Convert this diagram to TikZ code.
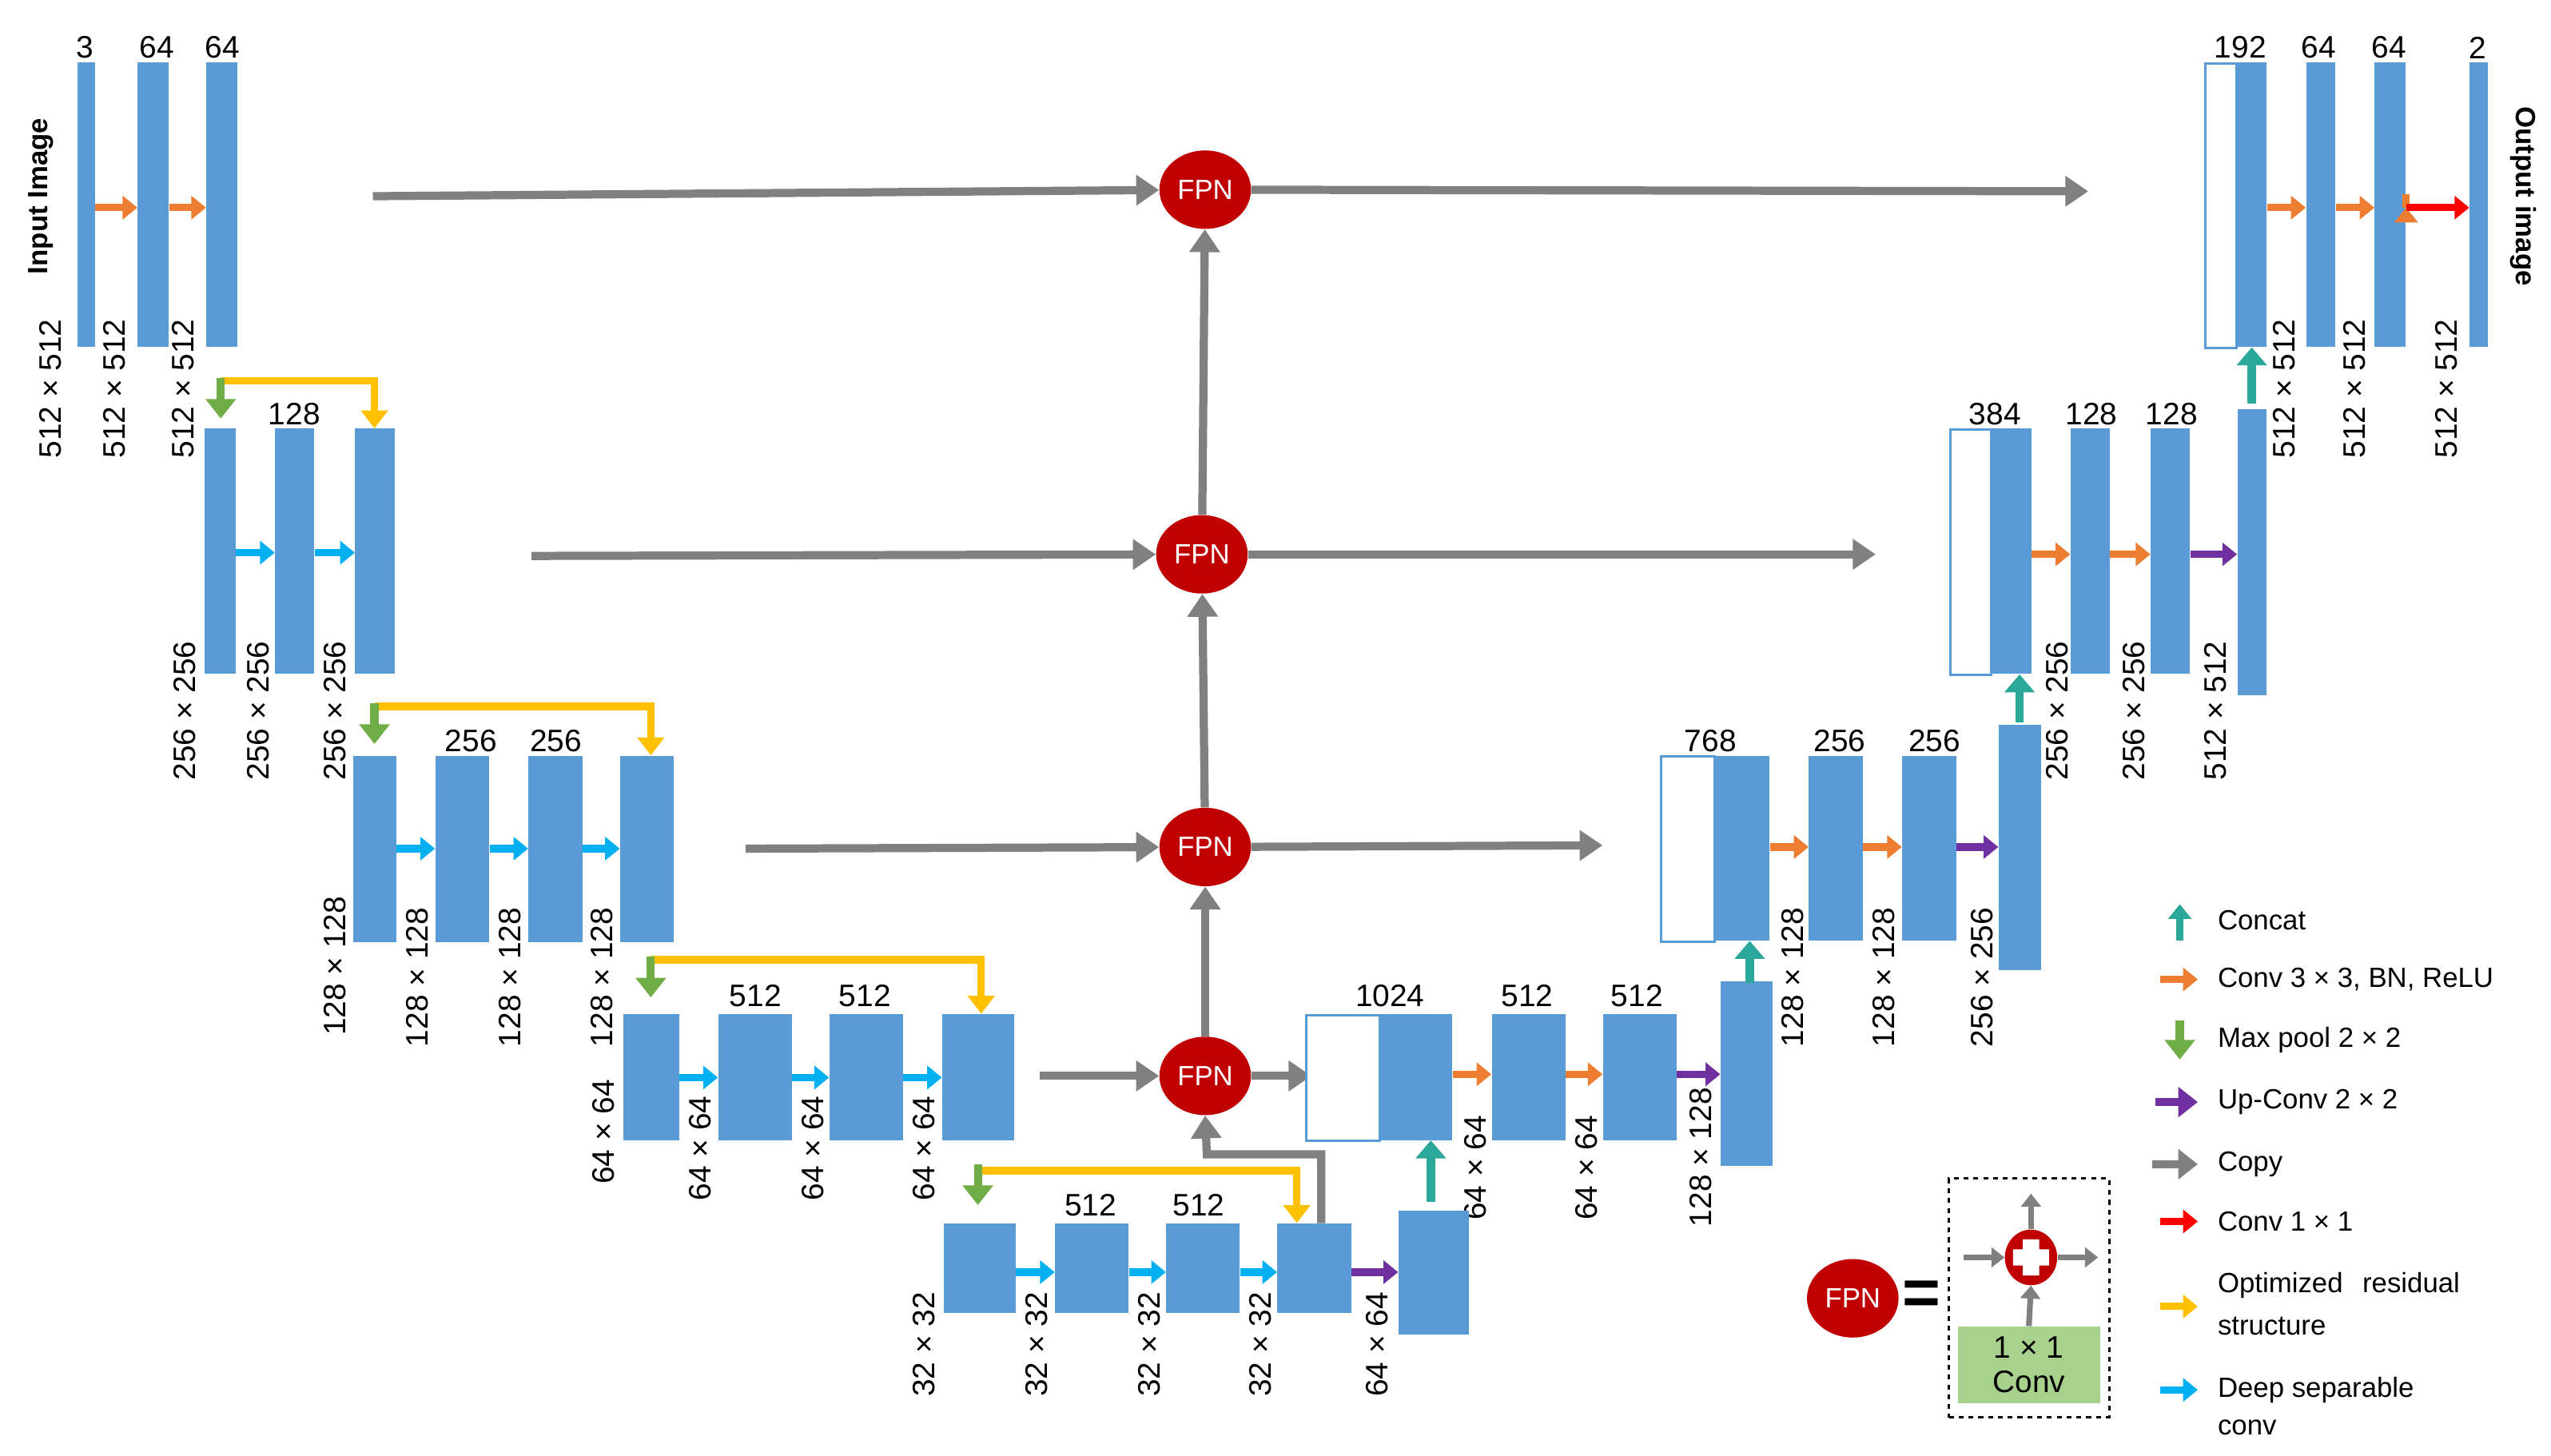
\documentclass[tikz,border=0pt]{standalone}
\usepackage{fontspec}
\setmainfont{Liberation Sans}
\usetikzlibrary{arrows.meta,shapes.geometric}
\definecolor{barb}{HTML}{5B9BD5}
\definecolor{corg}{HTML}{ED7D31}
\definecolor{cgrn}{HTML}{70AD47}
\definecolor{cpur}{HTML}{7030A0}
\definecolor{cyel}{HTML}{FFC000}
\definecolor{ccya}{HTML}{00B0F0}
\definecolor{cteal}{HTML}{2BA89A}
\definecolor{cgry}{HTML}{808080}
\definecolor{cfpn}{HTML}{C00000}
\definecolor{cgbox}{HTML}{A9D18E}
\newcommand\blk[5]{\node[bar,minimum width=#4pt,minimum height=#5pt] (#1) at (#2,#3) {};}
\newcommand\obk[5]{\node[obar,minimum width=#4pt,minimum height=#5pt] (#1) at (#2,#3) {};}
\newcommand\dimlab[4]{\node[dim] (#1) at (#2,#3) {#4};}
\newcommand\num[4]{\node[numl] (#1) at (#2,#3) {#4};}
\begin{document}
\begin{tikzpicture}[x=1pt,y=-1pt,
 bar/.style={fill=barb,draw=none,anchor=north west,inner sep=0pt},
 obar/.style={fill=white,draw=barb,line width=1.5pt,anchor=north west,inner sep=0pt},
 dim/.style={rotate=90,anchor=east,font=\fontsize{19}{20}\selectfont,inner sep=0pt},
 numl/.style={font=\fontsize{19}{20}\selectfont,inner sep=0pt,anchor=south},
 sa/.style={line width=4.5pt,-{Triangle[length=9pt,width=14pt]}},
 ga/.style={draw=cgry,line width=5pt,-{Triangle[length=14pt,width=18pt]}},
 fpn/.style={ellipse,fill=cfpn,minimum width=56pt,minimum height=48pt,inner sep=0pt,text=white,font=\fontsize{17}{18}\selectfont},
 leg/.style={anchor=west,font=\fontsize{17}{18}\selectfont,inner sep=0pt},
 ya/.style={draw=cyel,line width=4.5pt,-{Triangle[length=11pt,width=16pt]}}]
\useasboundingbox (0,0) rectangle (1560,890);
% ---------- level 1
\blk{a1}{47}{38}{11}{174}\blk{a2}{84}{38}{19}{174}\blk{a3}{126}{38}{19}{174}
\num{n1}{52}{36}{3}\num{n2}{96}{36}{64}\num{n3}{136}{36}{64}
\node[rotate=90,font=\bfseries\fontsize{17}{18}\selectfont] (inp) at (25,120) {Input Image};
\draw[sa,draw=corg] (a1.east|-0,127) -- (a2.west|-0,127);
\draw[sa,draw=corg] (a2.east|-0,127) -- (a3.west|-0,127);
\dimlab{d11}{31}{195}{512 × 512}\dimlab{d12}{70}{195}{512 × 512}\dimlab{d13}{112}{195}{512 × 512}
\node[fpn] (f1) at (737,116) {FPN};
\coordinate (s1) at (228,120);\coordinate (t1) at (1277,117);
\draw[ga] (s1) -- (f1);\draw[ga] (f1) -- (t1);
% output
\obk{o0}{1348}{38}{19}{174}\blk{o1}{1367}{38}{19}{174}\blk{o2}{1410}{38}{18}{174}\blk{o3}{1452}{38}{19}{174}\blk{o4}{1510}{38}{11}{174}
\num{m1}{1370}{36}{192}\num{m2}{1418}{36}{64}\num{m3}{1461}{36}{64}\num{m4}{1515}{36}{2}
\draw[sa,draw=corg] (o1.east|-0,127) -- (o2.west|-0,127);
\draw[sa,draw=corg] (o3.east|-0,127) -- (o3.east|-0,127) -- (o3.east|-0,127);
\draw[sa,draw=corg] (o2.east|-0,127) -- (o3.west|-0,127);
\draw[sa,draw=red] (o3.east|-0,127) -- (o4.west|-0,127);
\node[rotate=-90,font=\bfseries\fontsize{17}{18}\selectfont] (outp) at (1543,120) {Output image};
\dimlab{e11}{1397}{195}{512 × 512}\dimlab{e12}{1440}{195}{512 × 512}\dimlab{e13}{1496}{195}{512 × 512}
% ---------- level 2
\blk{b1}{125}{262}{19}{150}\blk{b2}{168}{262}{24}{150}\blk{b3}{217}{262}{24}{150}
\num{nb}{180}{260}{128}
\draw[sa,draw=ccya] (b1.east|-0,338) -- (b2.west|-0,338);
\draw[sa,draw=ccya] (b2.east|-0,338) -- (b3.west|-0,338);
\dimlab{d21}{113}{392}{256 × 256}\dimlab{d22}{158}{392}{256 × 256}\dimlab{d23}{205}{392}{256 × 256}
\draw[ya] (135,233) -- (229,233) -- (b3.north-|229,0);
\draw[draw=cgrn,line width=5pt,-{Triangle[length=12pt,width=18pt]}] (135,231) -- (135,256);
\node[fpn] (f2) at (735,339) {FPN};
\coordinate (s2) at (325,340);\coordinate (t2) at (1147,339);
\draw[ga] (s2) -- (f2);\draw[ga] (f2) -- (t2);
\obk{p0}{1192}{262}{25}{150}\blk{p1}{1217}{262}{25}{150}\blk{p2}{1266}{262}{24}{150}\blk{p3}{1315}{262}{24}{150}\blk{p4}{1368}{250}{18}{175}
\num{mb1}{1220}{260}{384}\num{mb2}{1279}{260}{128}\num{mb3}{1328}{260}{128}
\draw[sa,draw=corg] (p1.east|-0,339) -- (p2.west|-0,339);
\draw[sa,draw=corg] (p2.east|-0,339) -- (p3.west|-0,339);
\draw[sa,draw=cpur] (p3.east|-0,339) -- (p4.west|-0,339);
\dimlab{e21}{1258}{392}{256 × 256}\dimlab{e22}{1305}{392}{256 × 256}\dimlab{e23}{1355}{392}{512 × 512}
\draw[draw=cteal,line width=5pt,-{Triangle[length=11pt,width=18pt]}] (p4.north-|1377,0) ++(0,-3) -- (o1.south-|1377,0);
% ---------- level 3
\blk{c1}{216}{462}{26}{114}\blk{c2}{266}{462}{33}{114}\blk{c3}{323}{462}{33}{114}\blk{c4}{379}{462}{33}{114}
\num{nc1}{288}{460}{256}\num{nc2}{340}{460}{256}
\draw[sa,draw=ccya] (c1.east|-0,519) -- (c2.west|-0,519);
\draw[sa,draw=ccya] (c2.east|-0,519) -- (c3.west|-0,519);
\draw[sa,draw=ccya] (c3.east|-0,519) -- (c4.west|-0,519);
\dimlab{d31}{205}{548}{128 × 128}\dimlab{d32}{255}{555}{128 × 128}\dimlab{d33}{312}{555}{128 × 128}\dimlab{d34}{368}{555}{128 × 128}
\draw[ya] (229,432) -- (398,432) -- (c4.north-|398,0);
\draw[draw=cgrn,line width=5pt,-{Triangle[length=12pt,width=18pt]}] (229,430) -- (229,455);
\node[fpn] (f3) at (737,518) {FPN};
\coordinate (s3) at (456,519);\coordinate (t3) at (980,517);
\draw[ga] (s3) -- (f3);\draw[ga] (f3) -- (t3);
\obk{q0}{1015}{462}{33}{113}\blk{q1}{1048}{462}{34}{113}\blk{q2}{1106}{462}{33}{113}\blk{q3}{1163}{462}{33}{113}\blk{q4}{1222}{443}{26}{150}
\num{mc1}{1046}{460}{768}\num{mc2}{1125}{460}{256}\num{mc3}{1183}{460}{256}
\draw[sa,draw=corg] (q1.east|-0,518) -- (q2.west|-0,518);
\draw[sa,draw=corg] (q2.east|-0,518) -- (q3.west|-0,518);
\draw[sa,draw=cpur] (q3.east|-0,518) -- (q4.west|-0,518);
\dimlab{e31}{1096}{555}{128 × 128}\dimlab{e32}{1152}{555}{128 × 128}\dimlab{e33}{1212}{555}{256 × 256}
\draw[draw=cteal,line width=5pt,-{Triangle[length=11pt,width=18pt]}] (1235,442) -- (p1.south-|1235,0);
% ---------- level 4
\blk{r1}{381}{620}{34}{77}\blk{r2}{439}{620}{45}{77}\blk{r3}{507}{620}{45}{77}\blk{r4}{576}{620}{44}{77}
\num{nd1}{462}{616}{512}\num{nd2}{529}{616}{512}
\draw[sa,draw=ccya] (r1.east|-0,659) -- (r2.west|-0,659);
\draw[sa,draw=ccya] (r2.east|-0,659) -- (r3.west|-0,659);
\draw[sa,draw=ccya] (r3.east|-0,659) -- (r4.west|-0,659);
\dimlab{d41}{369}{660}{64 × 64}\dimlab{d42}{428}{670}{64 × 64}\dimlab{d43}{497}{670}{64 × 64}\dimlab{d44}{565}{670}{64 × 64}
\draw[ya] (398,587) -- (600,587) -- (r4.north-|600,0);
\draw[draw=cgrn,line width=5pt,-{Triangle[length=12pt,width=18pt]}] (398,585) -- (398,610);
\node[fpn] (f4) at (737,658) {FPN};
\coordinate (s4) at (636,658);\coordinate (t4) at (802,658);
\draw[ga] (s4) -- (f4);\draw[ga] (f4) -- (t4);
\obk{u0}{798}{620}{45}{77}\blk{u1}{843}{620}{45}{77}\blk{u2}{912}{620}{45}{77}\blk{u3}{980}{620}{45}{77}\blk{u4}{1052}{600}{32}{113}
\num{md1}{850}{616}{1024}\num{md2}{934}{616}{512}\num{md3}{1001}{616}{512}
\draw[sa,draw=corg] (u1.east|-0,657) -- (u2.west|-0,657);
\draw[sa,draw=corg] (u2.east|-0,657) -- (u3.west|-0,657);
\draw[sa,draw=cpur] (u3.east|-0,657) -- (u4.west|-0,657);
\dimlab{e41}{902}{682}{64 × 64}\dimlab{e42}{970}{682}{64 × 64}\dimlab{e43}{1040}{665}{128 × 128}
\draw[draw=cteal,line width=5pt,-{Triangle[length=11pt,width=18pt]}] (1070,601) -- (q1.south-|1070,0);
% ---------- level 5
\blk{w1}{577}{748}{44}{55}\blk{w2}{645}{748}{45}{55}\blk{w3}{713}{748}{45}{55}\blk{w4}{781}{748}{45}{55}\blk{w5}{855}{740}{43}{76}
\num{ne1}{667}{744}{512}\num{ne2}{733}{744}{512}
\draw[sa,draw=ccya] (w1.east|-0,778) -- (w2.west|-0,778);
\draw[sa,draw=ccya] (w2.east|-0,778) -- (w3.west|-0,778);
\draw[sa,draw=ccya] (w3.east|-0,778) -- (w4.west|-0,778);
\draw[sa,draw=cpur] (w4.east|-0,778) -- (w5.west|-0,778);
\dimlab{d51}{565}{790}{32 × 32}\dimlab{d52}{634}{790}{32 × 32}\dimlab{d53}{703}{790}{32 × 32}\dimlab{d54}{771}{790}{32 × 32}\dimlab{d55}{842}{790}{64 × 64}
\draw[ya] (598,716) -- (793,716) -- (w4.north-|793,0);
\draw[draw=cgrn,line width=5pt,-{Triangle[length=12pt,width=18pt]}] (598,712) -- (598,737);
\draw[draw=cteal,line width=5pt,-{Triangle[length=11pt,width=18pt]}] (875,735) -- (u1.south-|875,0);
\draw[ga] (w4.north-|808,0) -- (808,706) -- (738,706) -- (f4.south);
% vertical FPN chain
\draw[ga] (f4) -- (f3);\draw[ga] (f3) -- (f2);\draw[ga] (f2) -- (f1);
% ---------- legend
\draw[draw=cteal,line width=4.5pt,-{Triangle[length=9pt,width=14pt]}] (1333,575) -- (1333,553);
\node[leg] (l1) at (1356,563) {Concat};
\draw[sa,draw=corg] (1321,599) -- (1344,599);\node[leg] (l2) at (1356,599) {Conv 3 × 3, BN, ReLU};
\draw[draw=cgrn,line width=5pt,-{Triangle[length=12pt,width=18pt]}] (1333,624) -- (1333,648);\node[leg] (l3) at (1356,636) {Max pool 2 × 2};
\draw[draw=cpur,line width=5pt,-{Triangle[length=12pt,width=18pt]}] (1318,674) -- (1344,674);\node[leg] (l4) at (1356,674) {Up-Conv 2 × 2};
\draw[draw=cgry,line width=5pt,-{Triangle[length=12pt,width=18pt]}] (1316,712) -- (1344,712);\node[leg] (l5) at (1356,712) {Copy};
\draw[sa,draw=red] (1321,747) -- (1344,747);\node[leg] (l6) at (1356,747) {Conv 1 × 1};
\draw[sa,draw=cyel] (1321,799) -- (1344,799);
\node[leg] (l7) at (1356,786) {Optimized\hspace{12pt}residual};\node[leg] (l7b) at (1356,811) {structure};
\draw[sa,draw=ccya] (1321,850) -- (1344,850);
\node[leg] (l8) at (1356,850) {Deep separable};\node[leg] (l8b) at (1356,873) {conv};
% FPN legend
\node[fpn] (fl) at (1133,794) {FPN};
\node[font=\bfseries\fontsize{40}{40}\selectfont,inner sep=0pt] (eq) at (1175,794) {=};
\node[draw,dashed,line width=1.5pt,minimum width=98pt,minimum height=146pt,anchor=north west,inner sep=0pt] (dbox) at (1191,720) {};
\node[fill=cgbox,minimum width=87pt,minimum height=47pt,anchor=north west,inner sep=0pt,align=center,font=\fontsize{19}{21}\selectfont] (cbox) at (1197,811) {1 × 1\\Conv};
\node[ellipse,fill=cfpn,minimum width=32pt,minimum height=34pt,inner sep=0pt] (pl) at (1242,769) {};
\fill[white] (1237,758) rectangle (1247,780) (1231,764) rectangle (1253,774);
\coordinate (pt) at (1242,730);\coordinate (pr) at (1283,769);\coordinate (plf) at (1201,769);
\draw[draw=cgry,line width=3.5pt,-{Triangle[length=8pt,width=12pt]}] (cbox.north) -- (pl.south);
\draw[draw=cgry,line width=3.5pt,-{Triangle[length=8pt,width=12pt]}] (pl.north) -- (pt);
\draw[draw=cgry,line width=3.5pt,-{Triangle[length=8pt,width=12pt]}] (pl.east) -- (pr);
\draw[draw=cgry,line width=3.5pt,-{Triangle[length=8pt,width=12pt]}] (plf) -- (pl.west);
\end{tikzpicture}
\end{document}
